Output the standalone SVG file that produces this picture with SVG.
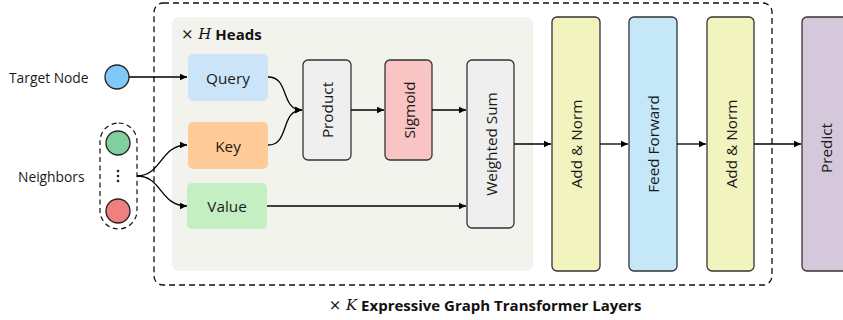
<svg xmlns="http://www.w3.org/2000/svg" width="843" height="320" viewBox="0 0 843 320">
<style>
.t{font-family:"Open Sans","Noto Sans","Liberation Sans",sans-serif;font-size:15.3px;fill:#1a1a1a;text-anchor:middle;dominant-baseline:central}
.lbl{font-family:"Open Sans","Noto Sans","Liberation Sans",sans-serif;font-size:13.8px;fill:#1a1a1a;dominant-baseline:central}
.b{font-family:"Open Sans","Noto Sans","Liberation Sans",sans-serif;font-weight:bold;font-size:15px;fill:#111}
.m{font-family:"DejaVu Serif","Liberation Serif",serif;font-size:15px;fill:#111}
.mi{font-style:italic}
.box{stroke:#333;stroke-width:1.3}
.conn{fill:none;stroke:#000;stroke-width:1.3}
</style>
<defs>
<marker id="ah" markerWidth="8" markerHeight="8" refX="7" refY="4" orient="auto" markerUnits="userSpaceOnUse">
<path d="M0,0.8 L7,4 L0,7.2 Z" fill="#000"/>
</marker>
</defs>
<rect x="0" y="0" width="843" height="320" fill="#fff"/>
<g id="layers">
<rect x="154" y="3" width="618" height="282" rx="9" fill="none" stroke="#111" stroke-width="1.3" stroke-dasharray="6,4"/>
<text x="485" y="305" text-anchor="middle" dominant-baseline="central"><tspan class="m">× </tspan><tspan class="m mi">K</tspan><tspan class="b"> Expressive Graph Transformer Layers</tspan></text>
</g>
<g id="heads">
<rect x="172" y="17" width="361" height="254" rx="7" fill="#f3f3ee"/>
<text x="181" y="34" dominant-baseline="central"><tspan class="m">× </tspan><tspan class="m mi">H</tspan><tspan class="b"> Heads</tspan></text>
</g>
<g id="target">
<text class="lbl" x="9" y="77">Target Node</text>
<circle cx="117" cy="77" r="12" fill="#80c8f7" stroke="#222" stroke-width="1.3"/>
</g>
<g id="neighbors">
<text class="lbl" x="18" y="176">Neighbors</text>
<rect x="100" y="123" width="37" height="106" rx="18.5" fill="none" stroke="#111" stroke-width="1.2" stroke-dasharray="5,3.5"/>
<circle cx="118" cy="143" r="12" fill="#7fcf9f" stroke="#222" stroke-width="1.3"/>
<circle cx="118" cy="211" r="12" fill="#f08080" stroke="#222" stroke-width="1.3"/>
<circle cx="118" cy="171" r="1.3" fill="#222"/>
<circle cx="118" cy="176" r="1.3" fill="#222"/>
<circle cx="118" cy="181" r="1.3" fill="#222"/>
</g>
<g id="query">
<rect x="188" y="54" width="80" height="47" rx="5" fill="#cce4f8"/>
<text class="t" x="228" y="77.5">Query</text>
</g>
<g id="key">
<rect x="188" y="122" width="80" height="47" rx="5" fill="#ffcc99"/>
<text class="t" x="228" y="145.5">Key</text>
</g>
<g id="value">
<rect x="187" y="183" width="80" height="46" rx="5" fill="#c3efc3"/>
<text class="t" x="227" y="206">Value</text>
</g>
<g id="product">
<rect class="box" x="303" y="60" width="48" height="100" rx="5" fill="#efefef"/>
<text class="t" transform="translate(327,110) rotate(-90)">Product</text>
</g>
<g id="sigmoid">
<rect class="box" x="385" y="60" width="47" height="100" rx="5" fill="#f8c4c4"/>
<text class="t" transform="translate(408.5,110) rotate(-90)">Sigmoid</text>
</g>
<g id="wsum">
<rect class="box" x="467" y="60" width="47" height="168" rx="5" fill="#efefef"/>
<text class="t" transform="translate(490.5,144) rotate(-90)">Weighted Sum</text>
</g>
<g id="addnorm1">
<rect class="box" x="552" y="17" width="48" height="254" rx="5" fill="#f2f4c0"/>
<text class="t" transform="translate(576,144) rotate(-90)">Add &amp; Norm</text>
</g>
<g id="ffn">
<rect class="box" x="629" y="17" width="48" height="254" rx="5" fill="#c5e8f8"/>
<text class="t" transform="translate(653,144) rotate(-90)">Feed Forward</text>
</g>
<g id="addnorm2">
<rect class="box" x="707" y="17" width="47" height="254" rx="5" fill="#f2f4c0"/>
<text class="t" transform="translate(730.5,144) rotate(-90)">Add &amp; Norm</text>
</g>
<g id="predict">
<rect class="box" x="802" y="17" width="50" height="254" rx="5" fill="#d5c8db"/>
<text class="t" transform="translate(826,148) rotate(-90)">Predict</text>
</g>
<g id="connectors">
<path class="conn" d="M129,77 L187,77" marker-end="url(#ah)"/>
<path class="conn" d="M137,176 C162,176 160,145 187,145" marker-end="url(#ah)"/>
<path class="conn" d="M137,176 C162,176 160,206 187,206" marker-end="url(#ah)"/>
<path class="conn" d="M268,77 C290,77 280,110 302,110" marker-end="url(#ah)"/>
<path class="conn" d="M268,145 C290,145 280,110 302,110" marker-end="url(#ah)"/>
<path class="conn" d="M351,110 L384,110" marker-end="url(#ah)"/>
<path class="conn" d="M432,110 L466,110" marker-end="url(#ah)"/>
<path class="conn" d="M267,206 L466,206" marker-end="url(#ah)"/>
<path class="conn" d="M514,144 L551,144" marker-end="url(#ah)"/>
<path class="conn" d="M600,144 L628,144" marker-end="url(#ah)"/>
<path class="conn" d="M677,144 L706,144" marker-end="url(#ah)"/>
<path class="conn" d="M754,144 L801,144" marker-end="url(#ah)"/>
</g>
</svg>
